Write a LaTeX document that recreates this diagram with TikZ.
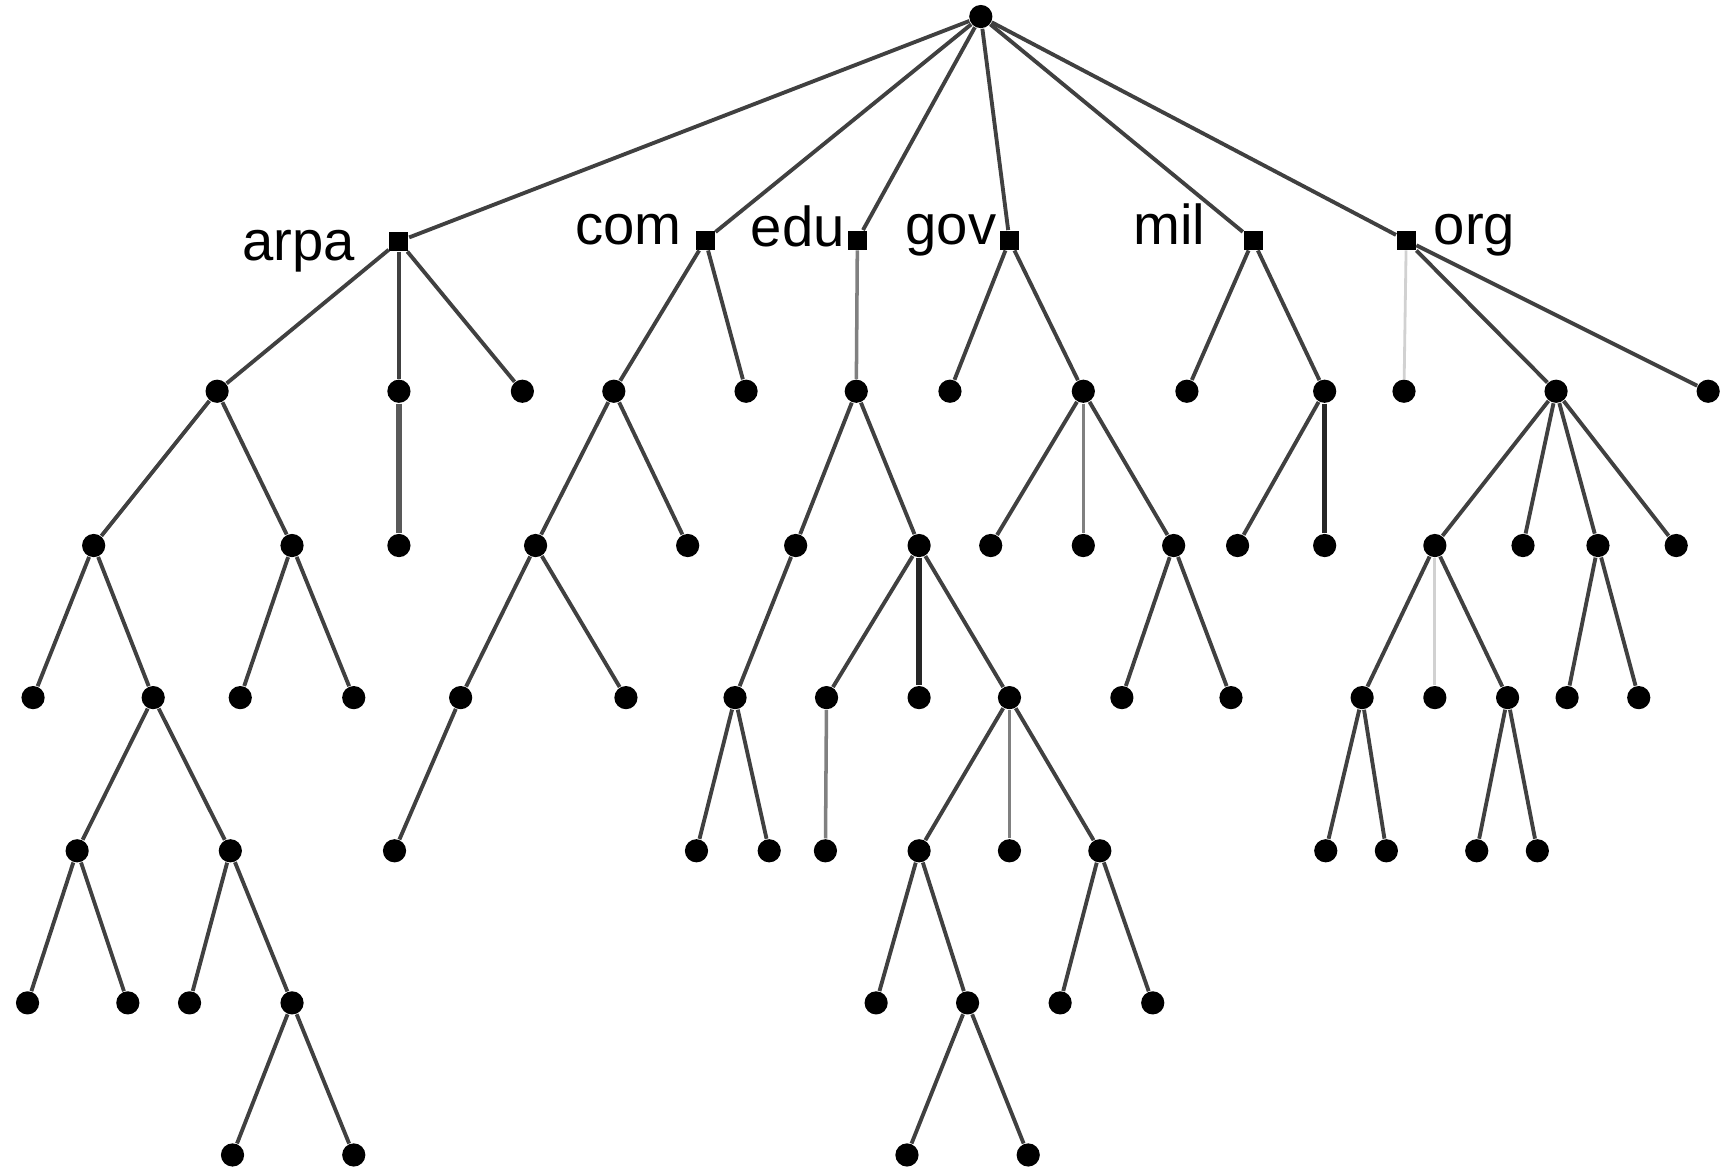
\documentclass[tikz,border=0pt]{standalone}
\usepackage{fontspec}
\setmainfont{Liberation Sans}
\tikzset{
  dot/.style={circle,fill=black,inner sep=0pt,minimum size=6.6pt},
  sq/.style={rectangle,fill=black,inner sep=0pt,minimum size=5.4pt},
  tld/.style={anchor=base,inner sep=0pt,font=\fontsize{16}{18}\selectfont},
  faint/.style={draw=black!18,line width=0.8pt},
  mid/.style={draw=black!50,line width=1pt},
  heavy/.style={draw=black!85,line width=1.5pt}
}
\begin{document}
\begin{tikzpicture}[x=0.01102cm,y=-0.01102cm]
      \useasboundingbox (0,0) rectangle (1568,1063.6);

      \begin{scope}[every node/.style={dot}]
        \node (r) at (890,15) {};
        \begin{scope}[every node/.style={sq}]
          \node (arpa) at (362,219) {};
          \node (com)  at (640,218) {};
          \node (edu)  at (778,218) {};
          \node (gov)  at (916,218) {};
          \node (mil)  at (1137,218) {};
          \node (org)  at (1276,218) {};
        \end{scope}
        % level 2
        \node (a1) at (197,355) {};
        \node (a2) at (362,355) {};
        \node (a3) at (474,355) {};
        \node (c1) at (557,355) {};
        \node (c2) at (677,355) {};
        \node (e1) at (777,355) {};
        \node (g1) at (862,355) {};
        \node (g2) at (983,355) {};
        \node (m1) at (1077,355) {};
        \node (m2) at (1202,355) {};
        \node (o1) at (1274,355) {};
        \node (o2) at (1412,355) {};
        \node (o3) at (1550,355) {};
        % level 3
        \node (a11) at (85,495) {};
        \node (a12) at (265,495) {};
        \node (a21) at (362,495) {};
        \node (c11) at (486,495) {};
        \node (c12) at (624,495) {};
        \node (e11) at (722,495) {};
        \node (e12) at (834,495) {};
        \node (g21) at (899,495) {};
        \node (g22) at (983,495) {};
        \node (g23) at (1065,495) {};
        \node (m21) at (1123,495) {};
        \node (m22) at (1202,495) {};
        \node (o21) at (1302,495) {};
        \node (o22) at (1382,495) {};
        \node (o23) at (1450,495) {};
        \node (o24) at (1521,495) {};
        % level 4
        \node (a111) at (30,633) {};
        \node (a112) at (139,633) {};
        \node (a121) at (218,633) {};
        \node (a122) at (321,633) {};
        \node (c111) at (418,633) {};
        \node (c112) at (568,633) {};
        \node (e111) at (667,633) {};
        \node (e121) at (750,633) {};
        \node (e122) at (834,633) {};
        \node (e123) at (916,633) {};
        \node (g231) at (1018,633) {};
        \node (g232) at (1117,633) {};
        \node (o211) at (1236,633) {};
        \node (o212) at (1302,633) {};
        \node (o213) at (1368,633) {};
        \node (o231) at (1422,633) {};
        \node (o232) at (1487,633) {};
        % level 5
        \node (a1121) at (70,772) {};
        \node (a1122) at (209,772) {};
        \node (c1111) at (358,772) {};
        \node (e1111) at (632,772) {};
        \node (e1112) at (698,772) {};
        \node (e1211) at (749,772) {};
        \node (e1231) at (834,772) {};
        \node (e1232) at (916,772) {};
        \node (e1233) at (998,772) {};
        \node (o2111) at (1203,772) {};
        \node (o2112) at (1258,772) {};
        \node (o2131) at (1340,772) {};
        \node (o2132) at (1395,772) {};
        % level 6
        \node (a11211) at (25,910) {};
        \node (a11212) at (116,910) {};
        \node (a11221) at (172,910) {};
        \node (a11222) at (265,910) {};
        \node (e12311) at (795,910) {};
        \node (e12312) at (878,910) {};
        \node (e12331) at (962,910) {};
        \node (e12332) at (1046,910) {};
        % level 7
        \node (a112221) at (211,1048) {};
        \node (a112222) at (321,1048) {};
        \node (e123121) at (823,1048) {};
        \node (e123122) at (933,1048) {};
      \end{scope}

      \begin{scope}[every node/.style={tld}]
        \node (arpal) at (271,236) {arpa};
        \node (coml)  at (570,222) {com};
        \node (edul)  at (724,224) {edu};
        \node (govl)  at (863,222) {gov};
        \node (mill)  at (1061,222) {mil};
        \node (orgl)  at (1338,222) {org};
      \end{scope}

      \begin{scope}[every edge/.style={draw=black!75,line width=1.1pt}]
        \foreach \t in {arpa,com,edu,gov,mil,org}
          \path (r) edge (\t);
        \path (arpa) edge (a1) (arpa) edge (a2) (arpa) edge (a3);
        \path (com) edge (c1) (com) edge (c2);
        \path (edu) edge[mid] (e1);
        \path (gov) edge (g1) (gov) edge (g2);
        \path (mil) edge (m1) (mil) edge (m2);
        \path (org) edge[faint] (o1) (org) edge (o2) (org) edge (o3);
        \path (a1) edge (a11) (a1) edge (a12);
        \path (a2) edge[heavy,draw=black!65] (a21);
        \path (c1) edge (c11) (c1) edge (c12);
        \path (e1) edge (e11) (e1) edge (e12);
        \path (g2) edge (g21) (g2) edge[mid] (g22) (g2) edge (g23);
        \path (m2) edge (m21) (m2) edge[heavy] (m22);
        \path (o2) edge (o21) (o2) edge (o22) (o2) edge (o23) (o2) edge (o24);
        \path (a11) edge (a111) (a11) edge (a112);
        \path (a12) edge (a121) (a12) edge (a122);
        \path (c11) edge (c111) (c11) edge (c112);
        \path (e11) edge (e111);
        \path (e12) edge (e121) (e12) edge[heavy] (e122) (e12) edge (e123);
        \path (g23) edge (g231) (g23) edge (g232);
        \path (o21) edge (o211) (o21) edge[faint] (o212) (o21) edge (o213);
        \path (o23) edge (o231) (o23) edge (o232);
        \path (a112) edge (a1121) (a112) edge (a1122);
        \path (c111) edge (c1111);
        \path (e111) edge (e1111) (e111) edge (e1112);
        \path (e121) edge[mid] (e1211);
        \path (e123) edge (e1231) (e123) edge[mid] (e1232) (e123) edge (e1233);
        \path (o211) edge (o2111) (o211) edge (o2112);
        \path (o213) edge (o2131) (o213) edge (o2132);
        \path (a1121) edge (a11211) (a1121) edge (a11212);
        \path (a1122) edge (a11221) (a1122) edge (a11222);
        \path (e1231) edge (e12311) (e1231) edge (e12312);
        \path (e1233) edge (e12331) (e1233) edge (e12332);
        \path (a11222) edge (a112221) (a11222) edge (a112222);
        \path (e12312) edge (e123121) (e12312) edge (e123122);
      \end{scope}

    \end{tikzpicture}
\end{document}
